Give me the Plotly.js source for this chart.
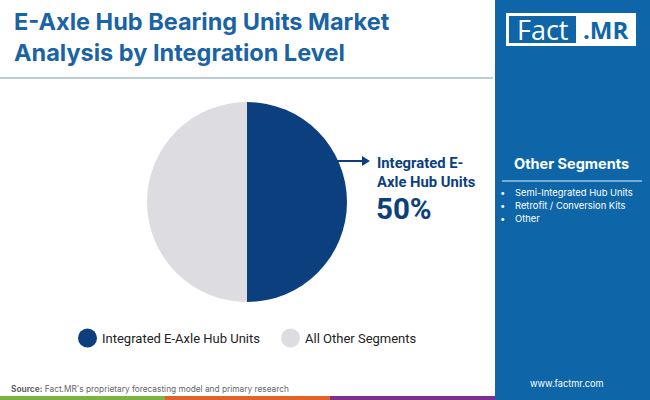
<!DOCTYPE html>
<html>
<head>
<meta charset="utf-8">
<script src="https://cdn.plot.ly/plotly-3.0.1.min.js"></script>
<style>
html,body{margin:0;padding:0;background:#fff;}
#chart{width:650px;height:400px;}
</style>
</head>
<body>
<div id="chart"></div>
<script>
// data
var segments = ["Integrated E-Axle Hub Units", "All Other Segments"];
var shares = [50, 50];
var sliceColors = ["#0b3f7e", "#dddce0"];
var otherSegments = ["Semi-Integrated Hub Units", "Retrofit / Conversion Kits", "Other"];
var titleLines = ["E-Axle Hub Bearing Units Market", "Analysis by Integration Level"];

var W = 650, H = 400;
function px(x){ return x / W; }
function py(y){ return 1 - y / H; }

var navy = "#0b3f7e";
var panel = "#0e66a8";
var titleBlue = "#1a63a5";

var trace = {
    type: 'pie',
    labels: segments,
    values: shares,
    marker: {colors: sliceColors, line: {width: 0}},
    sort: false,
    direction: 'clockwise',
    rotation: 0,
    textinfo: 'none',
    hoverinfo: 'label+percent',
    showlegend: false,
    domain: {x: [px(147), px(347)], y: [py(302), py(102)]}
};

var shapes = [
    // right side panel
    {type:'rect', xref:'paper', yref:'paper', x0:px(495), x1:1, y0:0, y1:1, fillcolor:panel, line:{width:0}, layer:'below'},
    // separator under title
    {type:'line', xref:'paper', yref:'paper', x0:0, x1:px(493), y0:py(78), y1:py(78), line:{color:'#a3bcd2', width:1.5}},
    // bottom stripes
    {type:'rect', xref:'paper', yref:'paper', x0:0, x1:px(165), y0:0, y1:py(396), fillcolor:'#7cb342', line:{width:0}},
    {type:'rect', xref:'paper', yref:'paper', x0:px(165), x1:px(330), y0:0, y1:py(396), fillcolor:'#e0622a', line:{width:0}},
    {type:'rect', xref:'paper', yref:'paper', x0:px(330), x1:px(495), y0:0, y1:py(396), fillcolor:'#7b2f8e', line:{width:0}},
    // logo
    {type:'rect', xref:'paper', yref:'paper', x0:px(506), x1:px(636), y0:py(46), y1:py(13), fillcolor:'#ffffff', line:{width:0}},
    {type:'rect', xref:'paper', yref:'paper', x0:px(509), x1:px(576), y0:py(43), y1:py(16), fillcolor:panel, line:{width:0}},
    // other segments divider
    {type:'line', xref:'paper', yref:'paper', x0:px(502), x1:px(642), y0:py(181), y1:py(181), line:{color:'#9cc3e3', width:1.5}},
    // arrow line
    {type:'line', xref:'paper', yref:'paper', x0:px(337), x1:px(363), y0:py(161), y1:py(161), line:{color:navy, width:2}},
    {type:'path', xref:'paper', yref:'paper', path:'M '+px(362)+' '+py(156)+' L '+px(370)+' '+py(161)+' L '+px(362)+' '+py(166)+' Z', fillcolor:navy, line:{width:0}}
];

// legend circles
var legX = [87.5, 290.5];
segments.forEach(function(s, i){
    shapes.push({type:'circle', xref:'paper', yref:'paper',
        x0:px(legX[i]-9.5), x1:px(legX[i]+9.5), y0:py(347.5), y1:py(328.5),
        fillcolor:sliceColors[i], line:{width:0}});
});

var annotations = [
    {text:'<b>' + titleLines.join('<br>') + '</b>', x:px(12), y:py(37), xanchor:'left', yanchor:'middle', align:'left',
     font:{family:'Inter, Open Sans, sans-serif', size:23.5, color:titleBlue}},
    {text:'Fact', x:px(543), y:py(30), xanchor:'center', yanchor:'middle', font:{family:'Open Sans, sans-serif', size:27, color:'#ffffff'}},
    {text:'<b>.MR</b>', x:px(605), y:py(30), xanchor:'center', yanchor:'middle', font:{family:'Open Sans, sans-serif', size:24, color:panel}},
    {text:'<b>Integrated E-<br>Axle Hub Units</b>', x:px(375), y:py(152), xanchor:'left', yanchor:'top', align:'left',
     font:{family:'Roboto, sans-serif', size:14.8, color:navy}},
    {text:'<b>' + shares[0] + '%</b>', x:px(374), y:py(190), xanchor:'left', yanchor:'top', align:'left',
     font:{family:'Roboto, sans-serif', size:29.5, color:navy}},
    {text:'<b>Other Segments</b>', x:px(571), y:py(164), xanchor:'center', yanchor:'middle',
     font:{family:'Inter, sans-serif', size:14.5, color:'#ffffff'}},
    {text:'www.factmr.com', x:px(567), y:py(383), xanchor:'center', yanchor:'middle',
     font:{family:'Inter, sans-serif', size:9.2, color:'#ffffff'}},
    {text:'<b>Source:</b> Fact.MR\'s proprietary forecasting model and primary research', x:px(9), y:py(389), xanchor:'left', yanchor:'middle',
     font:{family:'Inter, sans-serif', size:8.3, color:'#666666'}}
];

otherSegments.forEach(function(s, i){
    annotations.push({text:'•', x:px(502), y:py(193 + i*12.7), xanchor:'center', yanchor:'middle',
        font:{family:'Inter, sans-serif', size:9.5, color:'#ffffff'}});
    annotations.push({text:s, x:px(513), y:py(193 + i*12.7), xanchor:'left', yanchor:'middle',
        font:{family:'Inter, sans-serif', size:9.4, color:'#ffffff'}});
});

segments.forEach(function(s, i){
    annotations.push({text:s, x:px(legX[i]+12.5), y:py(338), xanchor:'left', yanchor:'middle',
        font:{family:'Roboto, sans-serif', size:13, color:'#222222'}});
});

annotations.forEach(function(a){ a.xref = 'paper'; a.yref = 'paper'; a.showarrow = false; });

var layout = {
    width: W, height: H,
    margin: {l:0, r:0, t:0, b:0},
    paper_bgcolor: '#ffffff',
    plot_bgcolor: '#ffffff',
    shapes: shapes,
    annotations: annotations
};

Plotly.newPlot('chart', [trace], layout, {displayModeBar:false, staticPlot:true});
</script>
</body>
</html>
